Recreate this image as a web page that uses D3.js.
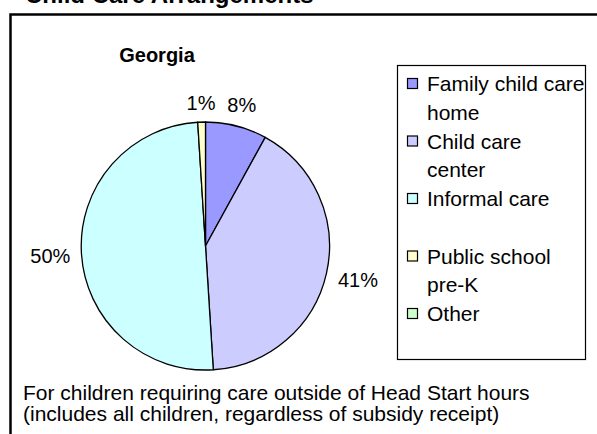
<!DOCTYPE html>
<html>
<head>
<meta charset="utf-8">
<script src="https://cdn.jsdelivr.net/npm/d3@7"></script>
<style>
  html, body { margin: 0; padding: 0; background: #fff; }
  svg { display: block; font-family: "Liberation Sans", Arial, sans-serif; }
</style>
</head>
<body>
<svg id="chart" width="597" height="434"></svg>
<script>
// data
const categories = ["Family child care home", "Child care center", "Informal care", "Public school pre-K", "Other"];
const legendLines = [["Family child care", "home"], ["Child care", "center"], ["Informal care"], ["Public school", "pre-K"], ["Other"]];
const shares = [8, 41, 50, 1, 0];
const colors = ["#9999FF", "#CCCCFF", "#CCFFFF", "#FFFFCC", "#CCFFCC"];
const footerLines = ["For children requiring care outside of Head Start hours", "(includes all children, regardless of subsidy receipt)"];

const width = 597, height = 434;
const svg = d3.select("#chart");

// outer title, mostly cut off at the top
svg.append("text")
    .attr("x", 25).attr("y", 3)
    .attr("font-size", 24).attr("font-weight", "bold")
    .text("Child Care Arrangements");

// chart frame (right and bottom edges fall outside the window)
svg.append("rect")
    .attr("x", 10.5).attr("y", 14.5)
    .attr("width", 600).attr("height", 440)
    .attr("fill", "none").attr("stroke", "#000").attr("stroke-width", 2.5);

svg.append("text")
    .attr("x", 157).attr("y", 62)
    .attr("text-anchor", "middle")
    .attr("font-size", 20).attr("font-weight", "bold")
    .text("Georgia");

/* PIE */
const cx = 205.5, cy = 246, r = 124;
const color = d3.scaleOrdinal().domain(categories).range(colors);
const pie = d3.pie().sort(null).value(d => d.v)
const arcs = pie(categories.map((c, i) => ({ c: c, v: shares[i] })));
const arc = d3.arc().innerRadius(0).outerRadius(r);

const g = svg.append("g").attr("transform", `translate(${cx},${cy})`);
g.selectAll("path")
    .data(arcs.filter(d => d.data.v > 0))
    .join("path")
    .attr("d", arc)
    .attr("fill", d => color(d.data.c))
    .attr("stroke", "#000").attr("stroke-width", 1.3)
    .attr("stroke-linejoin", "round");

// percent labels sit just outside the rim
const total = d3.sum(shares);
const labelSize = 20;
g.selectAll("text.pct")
    .data(arcs.filter(d => d.data.v > 0))
    .join("text")
    .attr("class", "pct")
    .attr("font-size", labelSize)
    .attr("text-anchor", "middle")
    .text(d => Math.round(d.data.v / total * 100) + "%")
    .each(function (d) {
        const a = (d.startAngle + d.endAngle) / 2;
        const ux = Math.sin(a), uy = -Math.cos(a);
        const w = this.getComputedTextLength(), h = 15;
        const dist = r + 11 + Math.abs(ux) * w / 2 + Math.abs(uy) * h / 2;
        d3.select(this)
            .attr("x", ux * dist)
            .attr("y", uy * dist + 7);
    });

/* LEGEND */
svg.append("rect")
    .attr("x", 397.5).attr("y", 65.5)
    .attr("width", 188).attr("height", 294)
    .attr("fill", "#fff").attr("stroke", "#000").attr("stroke-width", 1.2);

const legendY = d3.scaleLinear().domain([0, categories.length - 1]).range([91, 321]);
const item = svg.selectAll("g.item")
    .data(categories)
    .join("g")
    .attr("class", "item")
    .attr("transform", (d, i) => `translate(0,${legendY(i)})`);

item.append("rect")
    .attr("x", 407.5).attr("y", -12.5)
    .attr("width", 10).attr("height", 10)
    .attr("fill", d => color(d))
    .attr("stroke", "#000").attr("stroke-width", 1.2);

item.each(function (d, i) {
    d3.select(this).selectAll("text")
        .data(legendLines[i])
        .join("text")
        .attr("x", 427)
        .attr("y", (t, j) => j * 28.5)
        .attr("font-size", 21)
        .text(t => t);
});

/* FOOTNOTE */
svg.selectAll("text.foot")
    .data(footerLines)
    .join("text")
    .attr("class", "foot")
    .attr("x", 23)
    .attr("y", (d, i) => 399.5 + i * 21)
    .attr("font-size", 21)
    .text(d => d);
</script>
</body>
</html>
